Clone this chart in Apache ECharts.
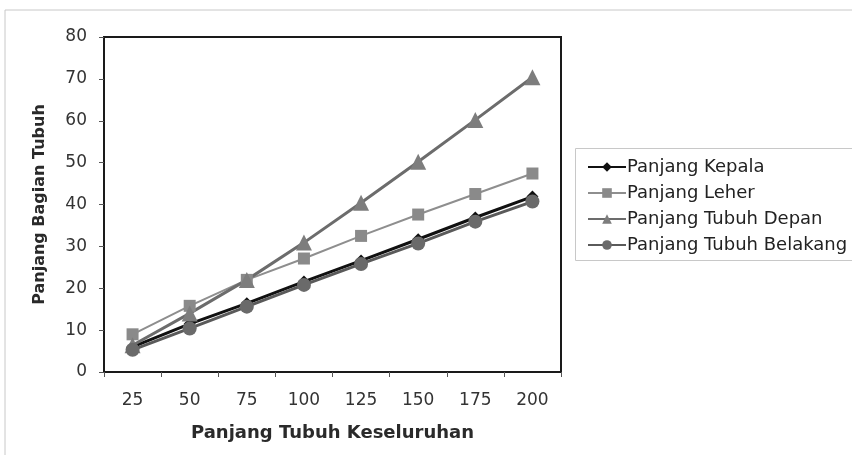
<!DOCTYPE html>
<html><head><meta charset="utf-8">
<script src="https://cdn.jsdelivr.net/npm/echarts@6/dist/echarts.min.js"></script>
<style>html,body{margin:0;padding:0;background:#fff}#c{width:852px;height:455px}</style>
</head><body><div id="c"></div>
<script>
const categories = ['25','50','75','100','125','150','175','200'];
const kepala   = [6.0, 11.5, 16.4, 21.6, 26.6, 31.7, 36.9, 41.9];
const leher    = [9.0, 15.8, 22.0, 27.1, 32.5, 37.6, 42.5, 47.4];
const depan    = [6.4, 14.0, 22.0, 30.9, 40.4, 50.2, 60.2, 70.4];
const belakang = [5.3, 10.4, 15.6, 20.8, 25.8, 30.7, 35.9, 40.7];
const seriesNames = ['Panjang Kepala','Panjang Leher','Panjang Tubuh Depan','Panjang Tubuh Belakang'];

const font = 'DejaVu Sans, Verdana, sans-serif';
const chart = echarts.init(document.getElementById('c'));
function s(name, data, color, lineColor, symbol, size, width){
  return {name, type:'line', data, symbol, symbolSize:size,
    lineStyle:{color:lineColor, width}, itemStyle:{color}, emphasis:{disabled:true}};
}
chart.setOption({
  animation:false,
  grid:{left:104, top:37, width:457, height:335, show:true, borderColor:'#1a1a1a', borderWidth:2},
  xAxis:{type:'category', data:categories, boundaryGap:true,
    name:'Panjang Tubuh Keseluruhan', nameLocation:'middle', nameGap:52,
    nameTextStyle:{fontFamily:font, fontSize:18, fontWeight:'bold', color:'#2a2a2a'},
    axisLine:{lineStyle:{color:'#1a1a1a', width:2}},
    axisTick:{show:true, length:5, lineStyle:{color:'#555'}},
    axisLabel:{fontFamily:font, fontSize:17, color:'#333', margin:20}},
  yAxis:{type:'value', min:0, max:80, interval:10,
    name:'Panjang Bagian Tubuh', nameLocation:'middle', nameGap:56,
    nameTextStyle:{fontFamily:font, fontSize:16, fontWeight:'bold', color:'#2a2a2a'},
    axisLine:{show:true, lineStyle:{color:'#1a1a1a', width:2}},
    axisTick:{show:true, length:5, lineStyle:{color:'#555'}},
    splitLine:{show:false},
    axisLabel:{fontFamily:font, fontSize:17, color:'#333', margin:17}},
  legend:{orient:'vertical', left:582, top:153, itemGap:8, itemWidth:38, itemHeight:12,
    data:seriesNames,
    textStyle:{fontFamily:font, fontSize:18, color:'#222', padding:[0,0,0,-4]}},
  graphic:[
    {type:'line', shape:{x1:5,y1:10,x2:852,y2:10}, style:{stroke:'#c8c8c8', lineWidth:1}},
    {type:'line', shape:{x1:5,y1:10,x2:5,y2:455}, style:{stroke:'#c8c8c8', lineWidth:1}},
    {type:'rect', shape:{x:575.5,y:148.5,width:300,height:112}, style:{fill:'none', stroke:'#c8c8c8', lineWidth:1}}
  ],
  series:[
    s(seriesNames[0], kepala, '#111', '#111', 'diamond', 12, 3),
    s(seriesNames[1], leher, '#8a8a8a', '#8e8e8e', 'rect', 12, 2),
    s(seriesNames[2], depan, '#7d7d7d', '#6c6c6c', 'triangle', 16, 3),
    s(seriesNames[3], belakang, '#6a6a6a', '#5a5a5a', 'circle', 14, 3)
  ]
});
</script></body></html>
